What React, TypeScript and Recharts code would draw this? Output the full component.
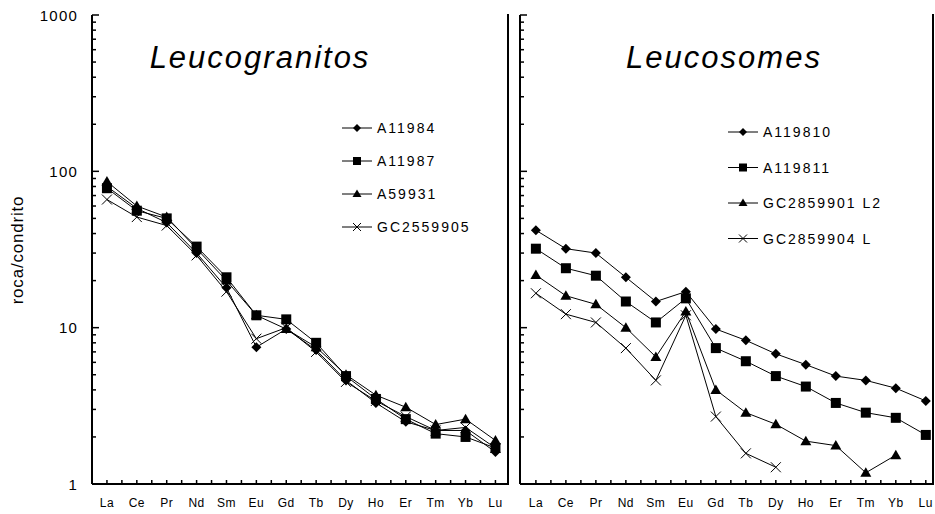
import React from 'react';
import { LineChart, Line, XAxis, YAxis, Legend } from 'recharts';

const elements = ['La', 'Ce', 'Pr', 'Nd', 'Sm', 'Eu', 'Gd', 'Tb', 'Dy', 'Ho', 'Er', 'Tm', 'Yb', 'Lu'];
const xTicks = [0, 0.5, 1, 1.5, 2, 2.5, 3, 3.5, 4, 4.5, 5, 5.5, 6, 6.5, 7, 7.5, 8, 8.5, 9, 9.5, 10, 10.5, 11, 11.5, 12, 12.5, 13];
const yTicks = [1, 2, 3, 4, 5, 6, 7, 8, 9, 10, 20, 30, 40, 50, 60, 70, 80, 90, 100, 200, 300, 400, 500, 600, 700, 800, 900, 1000];
const yLabels = [1, 10, 100, 1000];

// Leucogranitos
const a11984 = [80, 58, 47, 30, 18, 7.5, 9.8, 7.2, 4.6, 3.3, 2.5, 2.2, 2.2, 1.6];
const a11987 = [78, 56, 50, 33, 21, 12, 11.3, 8, 4.9, 3.5, 2.6, 2.1, 2.0, 1.7];
const a59931 = [86, 60, 51, 32, 20, 12, 9.8, 7.5, 5, 3.7, 3.1, 2.4, 2.6, 1.9];
const gc2559905 = [66, 51, 45, 29, 17, 8.5, 10, 7, 4.5, 3.4, 2.7, 2.2, 2.3, 1.7];

// Leucosomes
const a119810 = [42, 32, 30, 21, 14.7, 17, 9.8, 8.3, 6.8, 5.8, 4.9, 4.6, 4.1, 3.4];
const a119811 = [32, 24, 21.5, 14.7, 10.8, 15.4, 7.4, 6.1, 4.9, 4.2, 3.3, 2.86, 2.65, 2.06];
const gc2859901 = [21.7, 16, 14.1, 10, 6.5, 12.7, 4.0, 2.86, 2.41, 1.88, 1.76, 1.18, 1.53, null];
const gc2859904 = [16.6, 12.2, 10.8, 7.4, 4.6, 12, 2.7, 1.57, 1.28, null, null, null, null, null];

const granitoSeries = [
  { name: 'A11984', values: a11984, shape: 'diamond' },
  { name: 'A11987', values: a11987, shape: 'square' },
  { name: 'A59931', values: a59931, shape: 'triangle' },
  { name: 'GC2559905', values: gc2559905, shape: 'cross' },
];
const somesSeries = [
  { name: 'A119810', values: a119810, shape: 'diamond' },
  { name: 'A119811', values: a119811, shape: 'square' },
  { name: 'GC2859901 L2', values: gc2859901, shape: 'triangle' },
  { name: 'GC2859904 L', values: gc2859904, shape: 'cross' },
];

const buildRows = (series) =>
  elements.map((el, i) => {
    const row: any = { idx: i, el };
    series.forEach((s) => {
      row[s.name] = s.values[i];
    });
    return row;
  });

const granitoData = buildRows(granitoSeries);
const somesData = buildRows(somesSeries);

const FONT = '"Liberation Sans", Arial, sans-serif';

function Marker({ shape, cx, cy, s = 5 }) {
  if (cx == null || cy == null || isNaN(cx) || isNaN(cy)) return null;
  if (shape === 'diamond')
    return <polygon points={`${cx},${cy - s} ${cx + s},${cy} ${cx},${cy + s} ${cx - s},${cy}`} fill="#000" />;
  if (shape === 'square') return <rect x={cx - s} y={cy - s} width={2 * s} height={2 * s} fill="#000" />;
  if (shape === 'triangle')
    return (
      <polygon
        points={`${cx},${cy - s - 0.5} ${cx + s + 0.5},${cy + s - 1} ${cx - s - 0.5},${cy + s - 1}`}
        fill="#000"
      />
    );
  return (
    <g stroke="#000" strokeWidth={1}>
      <line x1={cx - s} y1={cy - s} x2={cx + s} y2={cy + s} />
      <line x1={cx - s} y1={cy + s} x2={cx + s} y2={cy - s} />
    </g>
  );
}

const dotFor = (shape) => (props) => {
  const { cx, cy, index } = props;
  return (
    <g key={`d-${shape}-${index}`}>
      <Marker shape={shape} cx={cx} cy={cy} />
    </g>
  );
};

function YTick({ x, y, payload, showLabel }) {
  const v = payload.value;
  const major = yLabels.includes(v);
  return (
    <g>
      <line x1={x} x2={x + (major ? 7 : 4)} y1={y} y2={y} stroke="#000" strokeWidth={1.5} />
      {showLabel && major && (
        <text
          x={x - 14}
          y={y}
          textAnchor="end"
          dominantBaseline="central"
          fontFamily={FONT}
          fontSize={15}
          letterSpacing={1.2}
          fill="#000"
        >
          {v}
        </text>
      )}
    </g>
  );
}

function XTick({ x, y, payload }) {
  const v = payload.value;
  const isCat = Number.isInteger(v);
  return (
    <g>
      <line x1={x} x2={x} y1={y} y2={y - 4} stroke="#000" strokeWidth={1.5} />
      {isCat && (
        <text
          x={x}
          y={y + 19}
          textAnchor="middle"
          dominantBaseline="central"
          fontFamily={FONT}
          fontSize={12}
          letterSpacing={0.5}
          fill="#000"
        >
          {elements[v]}
        </text>
      )}
    </g>
  );
}

const legendFor = (series, step) => () =>
  (
    <svg width={200} height={150} style={{ overflow: 'visible' }}>
      {series.map((s, i) => {
        const cy = 10 + i * step;
        return (
          <g key={s.name}>
            <line x1={6} x2={36} y1={cy} y2={cy} stroke="#000" strokeWidth={1} />
            <Marker shape={s.shape} cx={21} cy={cy} s={4} />
            <text
              x={41}
              y={cy}
              dominantBaseline="central"
              fontFamily={FONT}
              fontSize={14}
              letterSpacing={2}
              fill="#000"
            >
              {s.name}
            </text>
          </g>
        );
      })}
    </svg>
  );

function Panel({ data, series, width, margin, yWidth, domain, showYLabels, legendPos, legendStep }) {
  return (
    <LineChart width={width} height={514} data={data} margin={margin}>
      <XAxis
        dataKey="idx"
        type="number"
        domain={domain}
        ticks={xTicks}
        interval={0}
        allowDataOverflow
        height={30}
        tickSize={0}
        tickMargin={0}
        axisLine={{ stroke: '#000', strokeWidth: 2 }}
        tickLine={false}
        tick={(p) => <XTick {...p} />}
      />
      <XAxis
        xAxisId="top"
        orientation="top"
        dataKey="idx"
        type="number"
        domain={domain}
        allowDataOverflow
        height={0}
        tick={false}
        tickLine={false}
        axisLine={{ stroke: '#000', strokeWidth: 2 }}
      />
      <YAxis
        scale="log"
        type="number"
        domain={[1, 1000]}
        allowDataOverflow
        ticks={yTicks}
        interval={0}
        width={yWidth}
        tickSize={0}
        tickMargin={0}
        axisLine={{ stroke: '#000', strokeWidth: 2 }}
        tickLine={false}
        tick={(p) => <YTick {...p} showLabel={showYLabels} />}
      />
      <Legend
        layout="vertical"
        align="center"
        verticalAlign="middle"
        content={legendFor(series, legendStep)}
        wrapperStyle={{ left: legendPos[0], top: legendPos[1], width: 200, height: 150 }}
      />
      {series.map((s) => (
        <Line
          key={s.name}
          dataKey={s.name}
          name={s.name}
          type="linear"
          stroke="#000"
          strokeWidth={1}
          dot={dotFor(s.shape)}
          activeDot={false}
          connectNulls={false}
          isAnimationActive={false}
        />
      ))}
    </LineChart>
  );
}

const frameRight = (left) => (
  <div style={{ position: 'absolute', left, top: 14, width: 2, height: 471, background: '#000' }} />
);

export default function App() {
  return (
    <div style={{ position: 'absolute', left: 0, top: 0, width: 935, height: 514, background: '#fff', fontFamily: FONT }}>
      <div style={{ position: 'absolute', left: 0, top: 0 }}>
        <Panel
          data={granitoData}
          series={granitoSeries}
          width={510}
          margin={{ top: 15, right: 2, bottom: 0, left: 32 }}
          yWidth={60}
          domain={[-0.5, 13.42]}
          showYLabels
          legendPos={[336, 118]}
          legendStep={33}
        />
      </div>
      <div style={{ position: 'absolute', left: 500, top: 0 }}>
        <Panel
          data={somesData}
          series={somesSeries}
          width={435}
          margin={{ top: 15, right: 2, bottom: 0, left: 0 }}
          yWidth={20}
          domain={[-0.53, 13.24]}
          showYLabels={false}
          legendPos={[222, 122]}
          legendStep={35.5}
        />
      </div>
      {frameRight(507)}
      {frameRight(932)}
      <div
        style={{
          position: 'absolute',
          left: 110,
          width: 300,
          top: 42,
          lineHeight: '31px',
          fontSize: 31,
          fontStyle: 'italic',
          letterSpacing: 2,
          textAlign: 'center',
        }}
      >
        Leucogranitos
      </div>
      <div
        style={{
          position: 'absolute',
          left: 574,
          width: 300,
          top: 42,
          lineHeight: '31px',
          fontSize: 31,
          fontStyle: 'italic',
          letterSpacing: 2,
          textAlign: 'center',
        }}
      >
        Leucosomes
      </div>
      <div
        style={{
          position: 'absolute',
          left: 18 - 80,
          top: 250 - 10,
          width: 160,
          height: 20,
          lineHeight: '20px',
          fontSize: 17,
          letterSpacing: 0.8,
          textAlign: 'center',
          transform: 'rotate(-90deg)',
        }}
      >
        roca/condrito
      </div>
    </div>
  );
}
